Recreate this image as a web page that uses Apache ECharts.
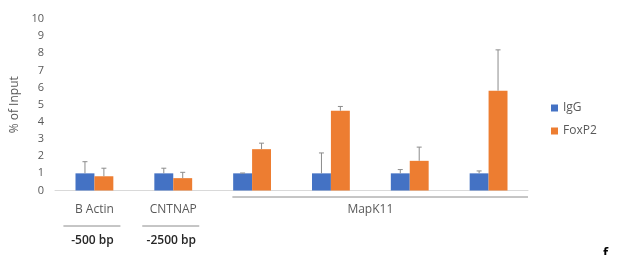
<!DOCTYPE html>
<html>
<head>
<meta charset="utf-8">
<script src="https://cdn.jsdelivr.net/npm/echarts@6/dist/echarts.min.js"></script>
<style>
  html, body { margin: 0; padding: 0; background: #fff; }
  #chart { width: 617px; height: 255px; }
</style>
</head>
<body>
<div id="chart"></div>
<script>
// one slot per pair of bars
var categories = ['B Actin', 'CNTNAP', 'MapK11 a', 'MapK11 b', 'MapK11 c', 'MapK11 d'];
var igg = [1.0, 1.0, 1.0, 1.0, 1.0, 1.0];
var iggErr = [1.68, 1.3, 1.02, 2.19, 1.22, 1.14];
var foxp2 = [0.83, 0.72, 2.41, 4.65, 1.73, 5.82];
var foxp2Err = [1.3, 1.06, 2.76, 4.9, 2.53, 8.2];
var yTicks = [0, 10, 1]; // min, max, interval

// group labels: [first index, last index, text, sub text]
var groups = [
  [0, 0, 'B Actin', '-500 bp'],
  [1, 1, 'CNTNAP', '-2500 bp'],
  [2, 5, 'MapK11', '']
];

var font = '"Open Sans", sans-serif';

function errSeries(vals, tops, side) {
  return {
    type: 'custom',
    z: 5,
    data: vals.map(function(v, i) { return [i, v, tops[i]]; }),
    renderItem: function(params, api) {
      var band = api.size([1, 0])[0];
      var off = band * 0.12 * side;
      var p0 = api.coord([api.value(0), api.value(1)]);
      var p1 = api.coord([api.value(0), api.value(2)]);
      var x = p0[0] + off;
      var st = { stroke: '#8c8c8c', lineWidth: 1 };
      return {
        type: 'group',
        children: [
          { type: 'line', shape: { x1: x, y1: p0[1], x2: x, y2: p1[1] }, style: st },
          { type: 'line', shape: { x1: x - 2.5, y1: p1[1], x2: x + 2.5, y2: p1[1] }, style: st }
        ]
      };
    }
  };
}

var chart = echarts.init(document.getElementById('chart'));
chart.setOption({
  animation: false,
  grid: { left: 55, right: 89, top: 19, bottom: 64.5 },
  legend: {
    data: ['IgG', 'FoxP2'],
    orient: 'vertical',
    left: 546,
    top: 97,
    itemWidth: 7,
    itemHeight: 7,
    itemGap: 11,
    icon: 'rect',
    textStyle: { fontFamily: font, fontSize: 12, color: '#595959' }
  },
  xAxis: {
    type: 'category',
    data: categories,
    axisLine: { lineStyle: { color: '#d9d9d9' } },
    axisTick: { show: false },
    axisLabel: { show: false }
  },
  yAxis: {
    type: 'value',
    min: yTicks[0],
    max: yTicks[1],
    interval: yTicks[2],
    name: '% of Input',
    nameLocation: 'middle',
    nameRotate: 90,
    nameGap: 28,
    nameTextStyle: { fontFamily: font, fontSize: 12, color: '#595959' },
    axisLine: { show: false },
    axisTick: { show: false },
    splitLine: { show: false },
    axisLabel: { fontFamily: font, fontSize: 11, color: '#595959', margin: 11 }
  },
  series: [
    { name: 'IgG', type: 'bar', data: igg, itemStyle: { color: '#4472C4' }, barGap: '0%', barCategoryGap: '52%' },
    { name: 'FoxP2', type: 'bar', data: foxp2, itemStyle: { color: '#ED7D31' }, barGap: '0%', barCategoryGap: '52%' },
    errSeries(igg, iggErr, -1),
    errSeries(foxp2, foxp2Err, 1)
  ]
});

// group labels under the axis
var els = [];
groups.forEach(function(g) {
  var a = chart.convertToPixel({ xAxisIndex: 0 }, g[0]);
  var b = chart.convertToPixel({ xAxisIndex: 0 }, g[1]);
  var band = chart.convertToPixel({ xAxisIndex: 0 }, 1) - chart.convertToPixel({ xAxisIndex: 0 }, 0);
  var cx = (a + b) / 2;
  if (g[0] === g[1]) {
    els.push({ type: 'text', x: cx, y: 210, style: { text: g[2], fontFamily: font, fontSize: 12, fill: '#595959', align: 'center', verticalAlign: 'middle' } });
    els.push({ type: 'line', shape: { x1: cx - 31, y1: 226, x2: cx + 26, y2: 226 }, style: { stroke: '#8c8c8c', lineWidth: 1 } });
    els.push({ type: 'text', x: cx - 2, y: 241, style: { text: g[3], fontFamily: font, fontSize: 12, fontWeight: 600, fill: '#262626', align: 'center', verticalAlign: 'middle' } });
  } else {
    els.push({ type: 'line', shape: { x1: a - band / 4, y1: 197, x2: b + band / 2, y2: 197 }, style: { stroke: '#8c8c8c', lineWidth: 1 } });
    els.push({ type: 'text', x: cx, y: 210, style: { text: g[2], fontFamily: font, fontSize: 12, fill: '#595959', align: 'center', verticalAlign: 'middle' } });
  }
});
els.push({ type: 'text', x: 603, y: 247, style: { text: 'f', fontFamily: font, fontSize: 13, fontWeight: 'bold', fill: '#000' } });
chart.setOption({ graphic: els });
</script>
</body>
</html>
